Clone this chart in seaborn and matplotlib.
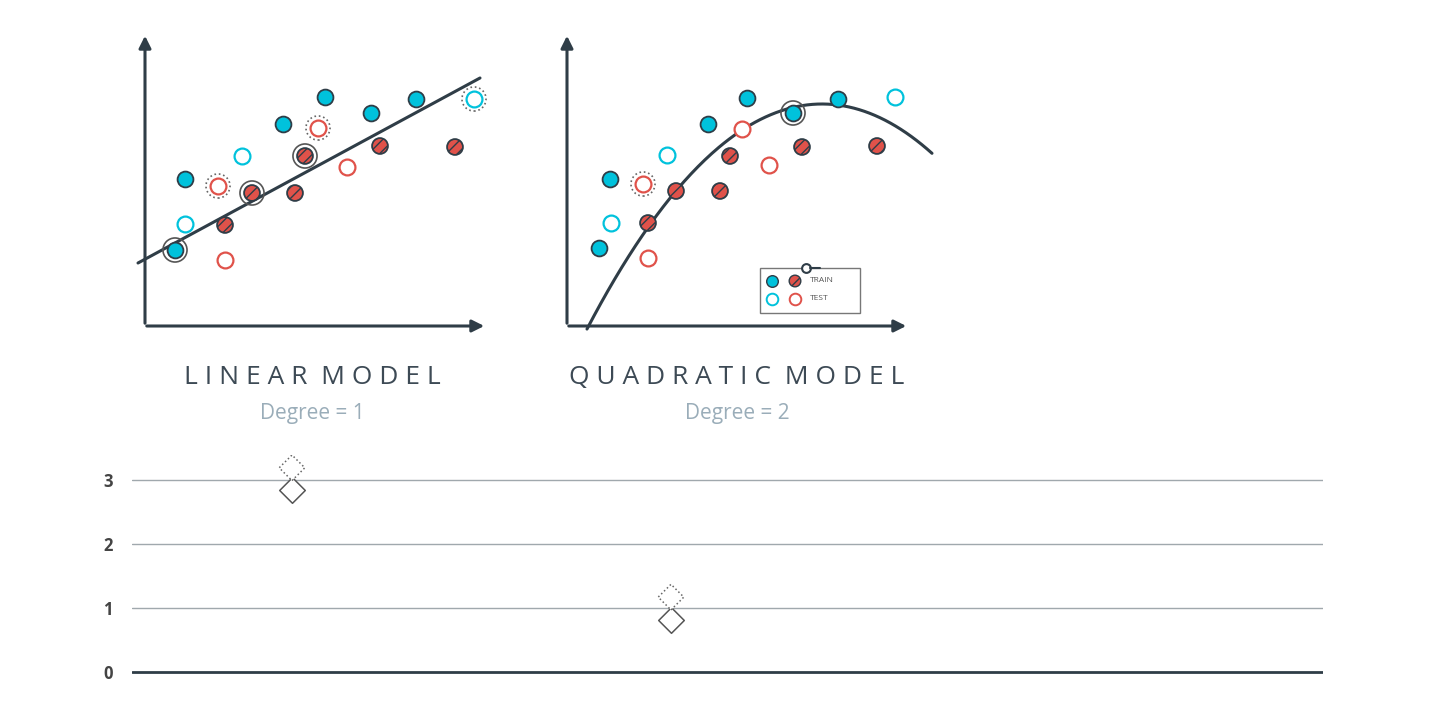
import numpy as np
import pandas as pd
import matplotlib
matplotlib.use("Agg")
import matplotlib.pyplot as plt
import seaborn as sns

sns.set_theme(style="white")
plt.rcParams['font.family'] = ['Open Sans', 'DejaVu Sans']

# ---- data (pixel-space positions) ----
lin_train_cyan = [(185,179),(283,124),(325,97),(371,113),(416,99),(175,250)]
lin_train_red = [(225,225),(252,193),(295,193),(305,156),(380,146),(455,147)]
lin_test_cyan = [(185,224),(242,156),(474,99)]
lin_test_red = [(218,186),(225,260),(318,128),(347,167)]
lin_ring_solid = [(175,250),(252,193),(305,156)]
lin_ring_dot = [(218,186),(318,128),(474,99)]
lin_line_x = [138, 480]
lin_line_y = [263, 78]

quad_train_cyan = [(610,179),(599,248),(708,124),(747,98),(793,113),(838,99)]
quad_train_red = [(648,223),(676,191),(720,191),(730,156),(802,147),(877,146)]
quad_test_cyan = [(611,223),(667,155),(895,97)]
quad_test_red = [(643,184),(648,258),(742,129),(769,165)]
quad_ring_solid = [(793,113)]
quad_ring_dot = [(643,184)]
quad_vertex = (822, 104)
quad_a = 0.004075
quad_x_range = (587, 932)

degrees = [1, 1, 2, 2]
errors = [3.19, 2.84, 1.17, 0.81]
err_kind = ["test", "train", "test", "train"]
yticks = [0, 1, 2, 3]

CYAN = "#00c2dc"; RED = "#e0524a"; DARK = "#2f3d47"; GREY = "#9aadb9"

fig = plt.figure(figsize=(14.4, 7.27), dpi=100)
ax = fig.add_axes([0, 0, 1, 1])
ax.set_xlim(0, 1440); ax.set_ylim(727, 0); ax.axis("off")

def pts(lst):
    return pd.DataFrame(lst, columns=["x", "y"])

def draw_panel(ox, oy, xend, tc, tr, ec, er, rs, rd):
    ax.annotate("", xy=(ox, 33), xytext=(ox, oy), arrowprops=dict(arrowstyle="-|>", color=DARK, lw=2.2, mutation_scale=18))
    ax.annotate("", xy=(xend, oy), xytext=(ox - 1, oy), arrowprops=dict(arrowstyle="-|>", color=DARK, lw=2.2, mutation_scale=18))
    if rs:
        sns.scatterplot(data=pts(rs), x="x", y="y", ax=ax, s=300, facecolor="none", edgecolor="#555", linewidth=1.2, zorder=3)
    if rd:
        sns.scatterplot(data=pts(rd), x="x", y="y", ax=ax, s=300, facecolor="none", edgecolor="#666", linewidth=1.2, linestyle=":", zorder=3)
    sns.scatterplot(data=pts(tc), x="x", y="y", ax=ax, s=130, color=CYAN, edgecolor=DARK, linewidth=1.3, zorder=4)
    sns.scatterplot(data=pts(tr), x="x", y="y", ax=ax, s=130, color=RED, edgecolor=DARK, linewidth=1.3, zorder=4, hatch="///")
    sns.scatterplot(data=pts(ec), x="x", y="y", ax=ax, s=130, facecolor="white", edgecolor=CYAN, linewidth=1.6, zorder=4)
    sns.scatterplot(data=pts(er), x="x", y="y", ax=ax, s=130, facecolor="white", edgecolor=RED, linewidth=1.6, zorder=4)

draw_panel(145, 326, 487, lin_train_cyan, lin_train_red, lin_test_cyan, lin_test_red, lin_ring_solid, lin_ring_dot)
sns.lineplot(x=lin_line_x, y=lin_line_y, ax=ax, color=DARK, lw=2.2, zorder=2)

draw_panel(567, 326, 909, quad_train_cyan, quad_train_red, quad_test_cyan, quad_test_red, quad_ring_solid, quad_ring_dot)
qx = np.linspace(*quad_x_range, 200)
qy = quad_a * (qx - quad_vertex[0]) ** 2 + quad_vertex[1]
sns.lineplot(x=qx, y=qy, ax=ax, color=DARK, lw=2.2, zorder=2, sort=False)

# legend box
ax.add_patch(plt.Rectangle((760, 268), 100, 45, facecolor="white", edgecolor="#777", lw=1, zorder=5))
ax.scatter([772], [281], s=70, color=CYAN, edgecolor=DARK, zorder=6)
ax.scatter([795], [281], s=70, color=RED, edgecolor=DARK, zorder=6, hatch="///")
ax.scatter([772], [299], s=70, facecolor="white", edgecolor=CYAN, lw=1.4, zorder=6)
ax.scatter([795], [299], s=70, facecolor="white", edgecolor=RED, lw=1.4, zorder=6)
ax.text(810, 281, "TRAIN", fontsize=6, color="#555", va="center", zorder=6)
ax.text(810, 299, "TEST", fontsize=6, color="#555", va="center", zorder=6)
ax.scatter([806], [268], s=40, facecolor="white", edgecolor=DARK, lw=1.5, zorder=7)
ax.plot([810, 820], [268, 268], color=DARK, lw=1.5, zorder=7)

for cx, t, d in [(312, "LINEAR MODEL", "Degree = 1"), (737, "QUADRATIC MODEL", "Degree = 2")]:
    ax.text(cx, 377, "  ".join([" ".join(w) for w in t.split()]).replace("   ", "  "), ha="center", va="center", fontsize=19, color="#3d4a55")
    ax.text(cx, 414, d, ha="center", va="center", fontsize=15, color=GREY)

# bottom chart
x0 = 132 / 1440; x1 = 1323 / 1440
yb = (727 - 684) / 727; yt = (727 - 455) / 727
bx = fig.add_axes([x0, yb, x1 - x0, yt - yb])
bx.set_xlim(1 - 160 / 379, 1 + 1031 / 379)
bx.set_ylim(-12 / 64, 3.39)
bx.set_facecolor("none")
for s in bx.spines.values():
    s.set_visible(False)
for v in yticks:
    bx.axhline(v, color=DARK if v == 0 else "#a0a8ad", lw=2 if v == 0 else 1, zorder=0)
bx.set_yticks(yticks)
bx.set_yticklabels([str(v) for v in yticks], fontsize=12, fontweight="bold", color="#444")
bx.tick_params(axis="y", length=0, pad=14)
bx.set_xticks([])
df = pd.DataFrame({"deg": degrees, "err": errors, "kind": err_kind})
sns.scatterplot(data=df[df.kind == "train"], x="deg", y="err", ax=bx, marker="D", s=170, facecolor="white", edgecolor="#555", linewidth=1.1, zorder=3)
sns.scatterplot(data=df[df.kind == "test"], x="deg", y="err", ax=bx, marker="D", s=170, facecolor="white", edgecolor="#666", linewidth=1.1, linestyle=":", zorder=3)
bx.set_xlabel(""); bx.set_ylabel("")

fig.savefig("out.png", dpi=100)
